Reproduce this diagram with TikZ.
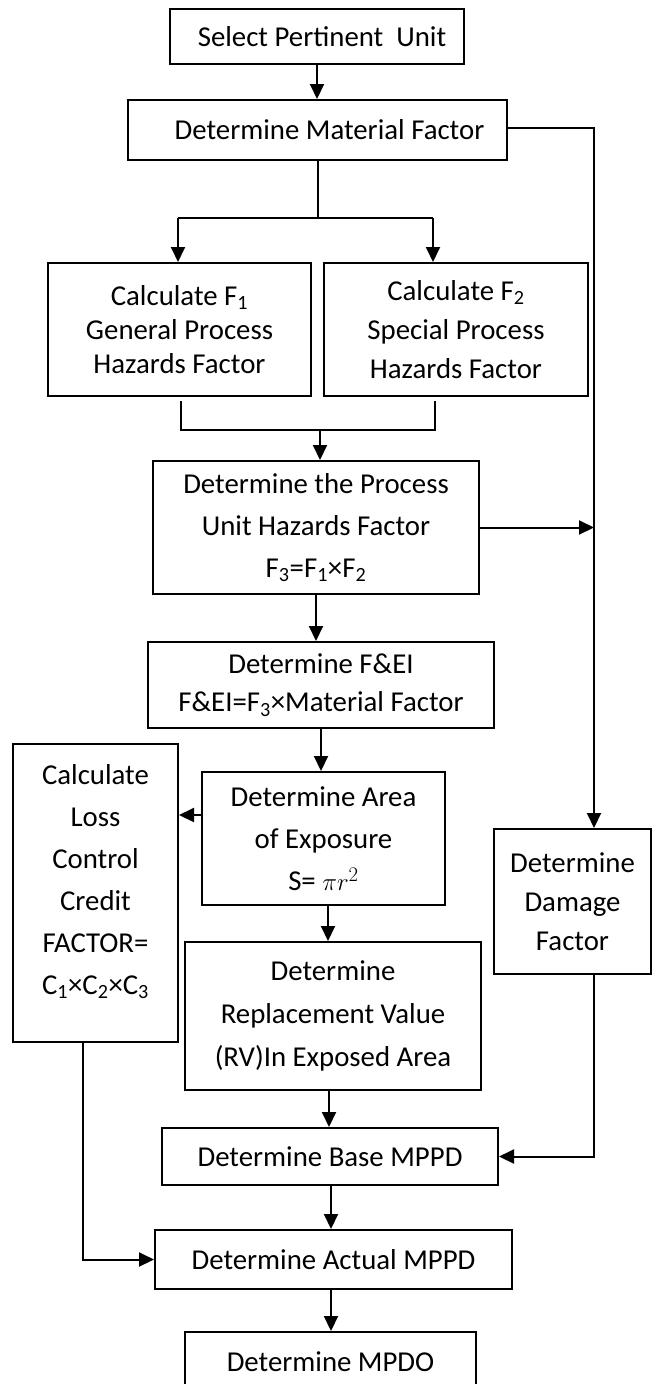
\documentclass[tikz,border=0pt]{standalone}
\usepackage{fontspec}
\setmainfont{Carlito}
\usetikzlibrary{arrows.meta,calc}
\begin{document}
\begin{tikzpicture}[x=1pt,y=-1pt,
  box/.style={draw, line width=2pt, inner sep=0pt, align=center,
    font=\fontsize{28.8}{40}\selectfont},
  arr/.style={-{Triangle[length=15pt,width=14pt]}, line width=2pt},
  ln/.style={line width=2pt}]
\useasboundingbox (0,0) rectangle (652,1384);
\clip (0,0) rectangle (652,1384);
% boxes
\node[box, minimum width=294pt, minimum height=55pt] (sel) at (317,36.5) {\hspace*{10pt}Select Pertinent\ \ Unit};
\node[box, minimum width=379pt, minimum height=60pt] (mat) at (317.5,130) {\hspace*{24pt}Determine Material Factor};
\node[box, minimum width=263pt, minimum height=133pt, font=\fontsize{28.8}{34}\selectfont] (f1) at (179.5,329.5) {Calculate F\textsubscript{1}\\General Process\\Hazards Factor};
\node[box, minimum width=264pt, minimum height=133pt, font=\fontsize{28.8}{39}\selectfont] (f2) at (456,329.5) {Calculate F\textsubscript{2}\\Special Process\\Hazards Factor};
\node[box, minimum width=326pt, minimum height=133pt, font=\fontsize{28.8}{42}\selectfont] (puhf) at (316,527.5) {Determine the Process\\Unit Hazards Factor\\F\textsubscript{3}=F\textsubscript{1}×F\textsubscript{2}};
\node[box, minimum width=346pt, minimum height=86pt, font=\fontsize{28.8}{38}\selectfont] (fei) at (321,685) {Determine F\&EI\\F\&EI=F\textsubscript{3}×Material Factor};
\node[box, minimum width=165pt, minimum height=298pt, font=\fontsize{28.8}{42}\selectfont] (lcc) at (95.5,893) {Calculate\\Loss\\Control\\Credit\\FACTOR=\\C\textsubscript{1}×C\textsubscript{2}×C\textsubscript{3}\\[-14pt]\mbox{}};
\node[box, minimum width=243pt, minimum height=133pt, font=\fontsize{28.8}{42}\selectfont] (area) at (323.5,838.5) {Determine Area\\of Exposure\\S= $\pi r^{2}$};
\node[box, minimum width=157pt, minimum height=145pt, font=\fontsize{28.8}{39}\selectfont] (dmg) at (572.5,901.5) {Determine\\Damage\\Factor};
\node[box, minimum width=296pt, minimum height=148pt, font=\fontsize{28.8}{43}\selectfont] (repl) at (333,1016) {Determine\\Replacement Value\\(RV)In Exposed Area};
\node[box, minimum width=336pt, minimum height=57pt] (base) at (330,1156.5) {Determine Base MPPD};
\node[box, minimum width=357pt, minimum height=59pt] (act) at (333.5,1259.5) {Determine Actual MPPD};
\node[box, minimum width=291pt, minimum height=60pt] (mpdo) at (330.5,1362) {Determine MPDO};
% helper coordinates
\coordinate (sp) at (318,218);
\coordinate (spl) at (178,218);
\coordinate (spr) at (433,218);
\coordinate (jl) at (181,430);
\coordinate (jr) at (435,430);
\coordinate (jm) at (320,430);
\coordinate (rt) at (594,128);
\coordinate (ax) at (328,0);
\coordinate (bx) at (329,0);
\coordinate (cx) at (331,0);
\coordinate (lx) at (83,0);
% connectors
\draw[arr] (sel.south) -- (sel.south |- mat.north);
\draw[ln] (mat.south -| sp) -- (sp);
\draw[ln] (spl) -- (spr);
\draw[arr] (spl) -- (spl |- f1.north);
\draw[arr] (spr) -- (spr |- f2.north);
\draw[ln] ([yshift=-4pt]f1.south -| jl) -- (jl) -- (jr) -- ([yshift=-4pt]f2.south -| jr);
\draw[arr] (jm) -- (jm |- puhf.north);
\draw[arr] (mat.east |- rt) -- (rt) -- (rt |- dmg.north);
\draw[arr] (puhf.east) -- (puhf.east -| rt);
\draw[arr] (puhf.south) -- (puhf.south |- fei.north);
\draw[arr] (fei.south) -- (fei.south |- area.north);
\draw[arr] (area.west |- 0,815) -- (lcc.east |- 0,815);
\draw[arr] (area.south -| ax) -- (ax |- repl.north);
\draw[arr] (repl.south -| bx) -- (bx |- base.north);
\draw[arr] (dmg.south -| rt) |- (base.east);
\draw[arr] (base.south -| cx) -- (cx |- act.north);
\draw[arr] (lcc.south -| lx) |- (act.west);
\draw[arr] (act.south -| cx) -- (cx |- mpdo.north);
\end{tikzpicture}
\end{document}
